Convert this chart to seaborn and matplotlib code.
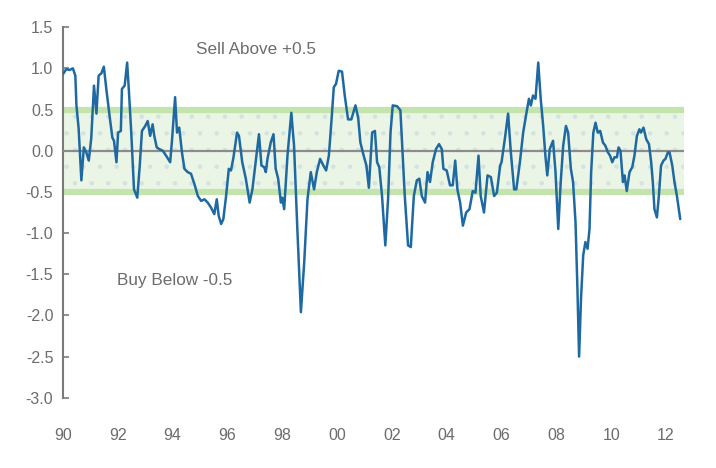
import numpy as np
import pandas as pd
import matplotlib
matplotlib.use('Agg')
import matplotlib.pyplot as plt
import seaborn as sns

sns.set_style('white')
plt.rcParams['font.family'] = ['Liberation Sans', 'DejaVu Sans']
plt.rcParams['hatch.linewidth'] = 0.8

# indicator readings (decimal year, value)
years = [
    1990.00, 1990.12, 1990.24, 1990.36, 1990.45, 1990.49, 1990.57, 1990.67, 1990.76, 1990.85,
    1990.94, 1991.03, 1991.13, 1991.22, 1991.30, 1991.40, 1991.49, 1991.58, 1991.70, 1991.80,
    1991.86, 1991.95, 1992.01, 1992.11, 1992.15, 1992.25, 1992.34, 1992.40, 1992.49, 1992.59,
    1992.71, 1992.80, 1992.88, 1993.00, 1993.09, 1993.18, 1993.27, 1993.33, 1993.42, 1993.51,
    1993.64, 1993.76, 1993.91, 1993.98, 1994.09, 1994.16, 1994.24, 1994.34, 1994.43, 1994.55,
    1994.67, 1994.79, 1994.92, 1995.04, 1995.16, 1995.28, 1995.40, 1995.52, 1995.61, 1995.68,
    1995.77, 1995.85, 1995.95, 1996.05, 1996.13, 1996.22, 1996.35, 1996.42, 1996.54, 1996.67,
    1996.81, 1996.91, 1997.03, 1997.15, 1997.24, 1997.34, 1997.40, 1997.46, 1997.58, 1997.68,
    1997.76, 1997.85, 1997.95, 1998.00, 1998.07, 1998.19, 1998.33, 1998.43, 1998.55, 1998.68,
    1998.80, 1998.92, 1999.04, 1999.16, 1999.26, 1999.38, 1999.50, 1999.60, 1999.70, 1999.79,
    1999.88, 1999.96, 2000.06, 2000.18, 2000.28, 2000.40, 2000.52, 2000.67, 2000.77, 2000.85,
    2000.97, 2001.07, 2001.16, 2001.28, 2001.38, 2001.46, 2001.54, 2001.64, 2001.76, 2001.86,
    2001.95, 2002.03, 2002.19, 2002.31, 2002.37, 2002.47, 2002.59, 2002.69, 2002.80, 2002.91,
    2003.00, 2003.09, 2003.21, 2003.30, 2003.39, 2003.49, 2003.61, 2003.72, 2003.82, 2003.88,
    2004.00, 2004.12, 2004.22, 2004.31, 2004.39, 2004.49, 2004.59, 2004.71, 2004.83, 2004.95,
    2005.05, 2005.16, 2005.24, 2005.36, 2005.49, 2005.61, 2005.73, 2005.83, 2005.95, 2006.00,
    2006.12, 2006.24, 2006.34, 2006.46, 2006.54, 2006.67, 2006.79, 2006.91, 2007.00, 2007.07,
    2007.15, 2007.24, 2007.34, 2007.43, 2007.52, 2007.60, 2007.67, 2007.76, 2007.88, 2007.97,
    2008.07, 2008.16, 2008.25, 2008.35, 2008.43, 2008.53, 2008.61, 2008.70, 2008.77, 2008.83,
    2008.90, 2008.98, 2009.06, 2009.14, 2009.21, 2009.27, 2009.35, 2009.43, 2009.51, 2009.60,
    2009.70, 2009.79, 2009.88, 2009.96, 2010.04, 2010.12, 2010.21, 2010.27, 2010.34, 2010.43,
    2010.49, 2010.57, 2010.67, 2010.77, 2010.85, 2010.94, 2011.03, 2011.09, 2011.18, 2011.28,
    2011.38, 2011.46, 2011.52, 2011.58, 2011.67, 2011.74, 2011.82, 2011.91, 2011.98, 2012.07,
    2012.13, 2012.23, 2012.31, 2012.40, 2012.52,
]
values = [
    0.93, 0.99, 0.98, 1.00, 0.91, 0.55, 0.27, -0.36, 0.04, -0.02,
    -0.12, 0.15, 0.79, 0.45, 0.91, 0.94, 1.02, 0.75, 0.42, 0.16,
    0.12, -0.14, 0.22, 0.24, 0.75, 0.79, 1.07, 0.75, 0.22, -0.47,
    -0.57, -0.18, 0.24, 0.30, 0.36, 0.18, 0.32, 0.18, 0.04, 0.02,
    0.00, -0.06, -0.14, 0.14, 0.65, 0.22, 0.28, -0.02, -0.22, -0.26,
    -0.28, -0.40, -0.55, -0.61, -0.59, -0.63, -0.69, -0.77, -0.59, -0.79,
    -0.89, -0.83, -0.55, -0.22, -0.24, -0.08, 0.22, 0.18, -0.14, -0.34,
    -0.63, -0.47, -0.14, 0.20, -0.18, -0.20, -0.26, -0.10, 0.10, 0.20,
    -0.22, -0.34, -0.63, -0.57, -0.71, -0.06, 0.46, 0.06, -0.95, -1.96,
    -1.36, -0.59, -0.26, -0.47, -0.26, -0.10, -0.18, -0.24, -0.06, 0.34,
    0.77, 0.81, 0.97, 0.96, 0.67, 0.38, 0.38, 0.55, 0.40, 0.10,
    -0.06, -0.18, -0.45, 0.22, 0.24, -0.14, -0.20, -0.55, -1.15, -0.59,
    0.22, 0.55, 0.54, 0.49, 0.10, -0.55, -1.15, -1.17, -0.55, -0.36,
    -0.34, -0.55, -0.63, -0.26, -0.38, -0.14, 0.02, 0.08, 0.02, -0.22,
    -0.24, -0.42, -0.42, -0.12, -0.47, -0.63, -0.91, -0.75, -0.71, -0.49,
    -0.51, -0.06, -0.55, -0.75, -0.30, -0.32, -0.55, -0.51, -0.18, -0.14,
    0.14, 0.45, -0.02, -0.47, -0.47, -0.14, 0.22, 0.46, 0.63, 0.55,
    0.67, 0.63, 1.07, 0.63, 0.30, -0.06, -0.30, 0.02, 0.12, -0.26,
    -0.95, -0.38, 0.06, 0.30, 0.22, -0.22, -0.38, -0.87, -1.68, -2.50,
    -1.80, -1.27, -1.11, -1.19, -0.95, -0.26, 0.22, 0.34, 0.22, 0.24,
    0.10, 0.06, -0.02, -0.06, -0.14, -0.08, -0.08, 0.04, 0.00, -0.38,
    -0.30, -0.49, -0.26, -0.20, -0.06, 0.18, 0.26, 0.22, 0.28, 0.14,
    0.08, -0.14, -0.38, -0.71, -0.81, -0.55, -0.18, -0.12, -0.10, -0.02,
    -0.02, -0.18, -0.38, -0.55, -0.83,
]
sell_level = 0.5
buy_level = -0.5
x_ticks = list(range(1990, 2013, 2))
x_labels = ['90', '92', '94', '96', '98', '00', '02', '04', '06', '08', '10', '12']
y_ticks = [1.5, 1.0, 0.5, 0.0, -0.5, -1.0, -1.5, -2.0, -2.5, -3.0]

df = pd.DataFrame({'year': years, 'value': values})

gray = '#7a7a7a'
txt = '#6c6c6c'
fig = plt.figure(figsize=(7.16, 4.68), dpi=100)
ax = fig.add_axes([0.088, 0.150, 0.867, 0.792])

x0, x1 = 1990, 2012.65
# neutral band with dotted fill
ax.fill_between([x0, x1], buy_level, sell_level, facecolor='#ebf5e5',
                edgecolor='#d3e3e2', hatch='.', linewidth=0, zorder=1)
ax.hlines([sell_level, buy_level], x0, x1, color='#c4e4ae', linewidth=4.5, zorder=2)
ax.axhline(0, color='#8c8c8c', linewidth=1.6, zorder=3)

sns.lineplot(data=df, x='year', y='value', color='#1f69a3', linewidth=1.8,
             ax=ax, zorder=4)

ax.set_xlim(x0, x1)
ax.set_ylim(-3.0, 1.5)
ax.set_xticks(x_ticks)
ax.set_xticklabels(x_labels)
ax.set_yticks(y_ticks)
ax.set_yticklabels([f'{v:.1f}' for v in y_ticks])
ax.set_xlabel('')
ax.set_ylabel('')

for side in ['top', 'right', 'bottom']:
    ax.spines[side].set_visible(False)
ax.spines['left'].set_color(gray)
ax.spines['left'].set_linewidth(1.5)

ax.tick_params(axis='y', direction='in', length=4, width=1.2, color=gray,
               labelsize=11.5, labelcolor=txt, pad=7, left=True)
ax.tick_params(axis='x', length=0, labelsize=11.5, labelcolor=txt, pad=22)

# small tick marks sitting on the zero line
zero_ax = ax.secondary_xaxis(3.0 / 4.5)
zero_ax.set_xticks(x_ticks)
zero_ax.tick_params(axis='x', direction='out', length=3, width=1, color='#8c8c8c',
                    labelbottom=False, labeltop=False, bottom=True, top=False)
zero_ax.spines['bottom'].set_visible(False)
zero_ax.spines['top'].set_visible(False)

ax.text(1997.04, 1.23, 'Sell Above +0.5', ha='center', va='center',
        fontsize=12.3, color=txt)
ax.text(1994.09, -1.57, 'Buy Below -0.5', ha='center', va='center',
        fontsize=12.3, color=txt)

fig.savefig('out.png', dpi=100)
